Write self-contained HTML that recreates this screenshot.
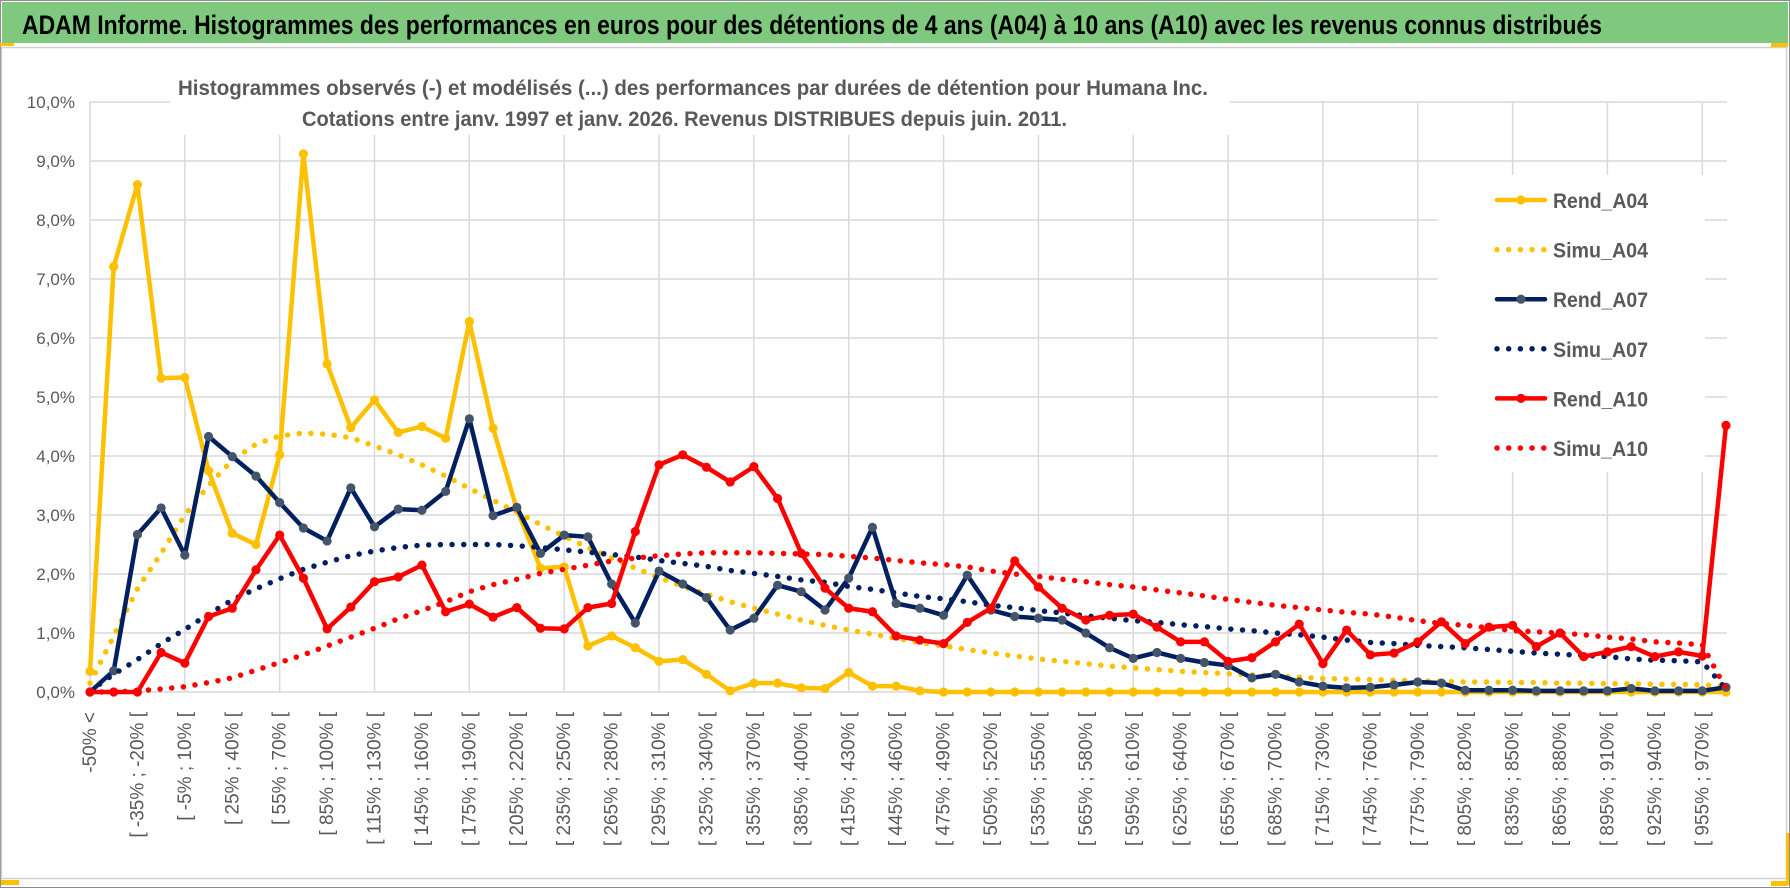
<!DOCTYPE html>
<html><head><meta charset="utf-8"><style>
html,body{margin:0;padding:0;background:#fff;}
svg{display:block;font-family:"Liberation Sans",sans-serif;}
</style></head><body>
<svg id="chart" width="1790" height="888" viewBox="0 0 1790 888">
<rect x="0" y="0" width="1790" height="888" fill="#fff"/>
<rect x="0.5" y="0.5" width="1789" height="887" fill="none" stroke="#8c8c8c"/>
<rect x="2" y="2" width="1786" height="41" fill="#7fc97f"/>
<text x="22" y="34" font-size="27" font-weight="bold" fill="#000" textLength="1580" lengthAdjust="spacingAndGlyphs">ADAM Informe. Histogrammes des performances en euros pour des détentions de 4 ans (A04) à 10 ans (A10) avec les revenus connus distribués</text>
<rect x="1.5" y="47.5" width="1785" height="831" fill="#fff" stroke="#d0d0d0" stroke-width="1.5"/>
<rect x="0" y="43" width="14" height="3" fill="#ffc000"/>
<rect x="1771" y="43" width="17" height="4" fill="#ffc000"/>
<rect x="1786" y="833" width="3" height="52" fill="#ffc000"/>
<rect x="1771" y="881" width="17" height="5" fill="#ffc000"/>
<rect x="1" y="880" width="18" height="5" fill="#ffc000"/>
<g id="grid"></g>
<rect x="170" y="58" width="1060" height="77" fill="#fff"/>
<text x="178" y="95" font-size="21" font-weight="bold" fill="#595959" textLength="1030" lengthAdjust="spacingAndGlyphs">Histogrammes observés (-) et modélisés (...) des performances par durées de détention pour Humana Inc.</text>
<text x="302" y="126" font-size="21" font-weight="bold" fill="#595959" textLength="765" lengthAdjust="spacingAndGlyphs">Cotations entre janv. 1997 et janv. 2026. Revenus DISTRIBUES depuis juin. 2011.</text>
<rect x="1438" y="175" width="267" height="297" fill="#fff"/>
<g id="yaxis"></g>
<g id="xaxis"></g>
<g id="series"></g>
<g id="legend"></g>
</svg>
<script>
const yTicks = [0,1,2,3,4,5,6,7,8,9,10];
const yTickLabels = ["0,0%","1,0%","2,0%","3,0%","4,0%","5,0%","6,0%","7,0%","8,0%","9,0%","10,0%"];
const tickLabels = ["-50% <","[ -35% ; -20% [","[ -5% ; 10% [","[ 25% ; 40% [","[ 55% ; 70% [","[ 85% ; 100% [","[ 115% ; 130% [","[ 145% ; 160% [","[ 175% ; 190% [","[ 205% ; 220% [","[ 235% ; 250% [","[ 265% ; 280% [","[ 295% ; 310% [","[ 325% ; 340% [","[ 355% ; 370% [","[ 385% ; 400% [","[ 415% ; 430% [","[ 445% ; 460% [","[ 475% ; 490% [","[ 505% ; 520% [","[ 535% ; 550% [","[ 565% ; 580% [","[ 595% ; 610% [","[ 625% ; 640% [","[ 655% ; 670% [","[ 685% ; 700% [","[ 715% ; 730% [","[ 745% ; 760% [","[ 775% ; 790% [","[ 805% ; 820% [","[ 835% ; 850% [","[ 865% ; 880% [","[ 895% ; 910% [","[ 925% ; 940% [","[ 955% ; 970% ["];
const rendA04 = [0.35,7.21,8.6,5.32,5.33,3.75,2.69,2.5,4.02,9.12,5.56,4.48,4.95,4.4,4.5,4.3,6.28,4.47,3.1,2.1,2.12,0.78,0.95,0.75,0.52,0.55,0.3,0.02,0.15,0.15,0.07,0.06,0.33,0.1,0.1,0.02,0,0,0,0,0,0,0,0,0,0,0,0,0,0,0,0,0,0,0,0,0,0,0,0,0,0,0,0,0,0,0,0,0,0];
const simuA04 = [0.15,0.95,1.75,2.35,3.0,3.5,3.93,4.2,4.34,4.39,4.37,4.31,4.17,4.02,3.85,3.66,3.45,3.25,3.05,2.84,2.64,2.45,2.27,2.1,1.94,1.79,1.66,1.53,1.42,1.32,1.22,1.13,1.05,0.98,0.91,0.84,0.78,0.72,0.66,0.61,0.56,0.52,0.48,0.44,0.41,0.38,0.35,0.33,0.31,0.29,0.27,0.25,0.23,0.22,0.21,0.2,0.19,0.18,0.17,0.17,0.16,0.16,0.15,0.15,0.14,0.14,0.13,0.13,0.12,0.1];
const rendA07 = [0,0.36,2.67,3.12,2.32,4.33,3.99,3.66,3.21,2.78,2.56,3.46,2.8,3.1,3.08,3.4,4.63,2.99,3.13,2.35,2.66,2.63,1.83,1.17,2.05,1.83,1.6,1.05,1.25,1.81,1.7,1.39,1.93,2.79,1.5,1.42,1.3,1.98,1.39,1.28,1.25,1.22,1.0,0.75,0.57,0.67,0.57,0.5,0.45,0.24,0.3,0.17,0.1,0.07,0.08,0.12,0.17,0.15,0.03,0.03,0.03,0.02,0.02,0.02,0.02,0.06,0.02,0.02,0.02,0.08];
const simuA07 = [0.02,0.3,0.55,0.82,1.06,1.32,1.56,1.75,1.92,2.08,2.2,2.31,2.39,2.45,2.49,2.5,2.5,2.5,2.48,2.45,2.41,2.37,2.33,2.29,2.23,2.18,2.13,2.06,2.01,1.96,1.9,1.86,1.79,1.74,1.68,1.62,1.58,1.53,1.47,1.43,1.38,1.34,1.29,1.25,1.21,1.18,1.14,1.11,1.07,1.04,1.0,0.97,0.93,0.88,0.84,0.82,0.79,0.77,0.75,0.72,0.69,0.66,0.64,0.62,0.6,0.56,0.54,0.53,0.51,0.05];
const rendA10 = [0,0,0,0.67,0.49,1.28,1.42,2.07,2.66,1.93,1.07,1.44,1.87,1.95,2.15,1.36,1.49,1.27,1.43,1.08,1.07,1.43,1.5,2.72,3.85,4.02,3.81,3.56,3.82,3.28,2.35,1.76,1.42,1.36,0.95,0.88,0.82,1.18,1.42,2.22,1.78,1.42,1.22,1.3,1.32,1.1,0.85,0.85,0.52,0.58,0.85,1.15,0.48,1.05,0.63,0.66,0.85,1.19,0.82,1.1,1.13,0.77,1.0,0.6,0.68,0.77,0.6,0.68,0.61,4.52];
const simuA10 = [0,0,0.02,0.05,0.09,0.16,0.24,0.37,0.5,0.63,0.78,0.93,1.08,1.24,1.38,1.53,1.7,1.82,1.91,2.01,2.08,2.15,2.22,2.27,2.31,2.34,2.36,2.36,2.36,2.35,2.34,2.33,2.3,2.27,2.23,2.19,2.16,2.12,2.05,2.0,1.96,1.91,1.87,1.82,1.78,1.73,1.68,1.63,1.57,1.52,1.47,1.43,1.39,1.35,1.32,1.27,1.21,1.16,1.13,1.09,1.04,1.02,1.0,0.97,0.93,0.9,0.85,0.83,0.8,0.05];

const NS = "http://www.w3.org/2000/svg";
const X0 = 90, X1 = 1726, Y0 = 692, Y10 = 102, NCAT = 70;
function xScale(i){ return X0 + i*(X1-X0)/(NCAT-1); }
function yScale(v){ return Y0 - v*(Y0-Y10)/10; }
function mk(tag, attrs, parent){
  const e = document.createElementNS(NS, tag);
  for (const k in attrs) e.setAttribute(k, attrs[k]);
  parent.appendChild(e); return e;
}
const grid = document.getElementById('grid');
yTicks.forEach(t => {
  const l = mk('line', {x1:X0, x2:1727, y1:yScale(t), y2:yScale(t), stroke:'#d9d9d9', 'stroke-width':1.5}, grid);
  
  
});
for (let i = 0; i < NCAT; i += 4) {
  const l = mk('line', {x1:xScale(i), x2:xScale(i), y1:Y10, y2:Y0, stroke:'#d9d9d9', 'stroke-width':1.5}, grid);
  
  
}
const ya = document.getElementById('yaxis');
yTicks.forEach((t, k) => {
  const tx = mk('text', {x:75, y:yScale(t)+6, 'text-anchor':'end', 'font-size':17, fill:'#595959'}, ya);
  tx.textContent = yTickLabels[k];
  
  
});
const xa = document.getElementById('xaxis');
tickLabels.forEach((lab, k) => {
  const cx = xScale(k*2) + 6;
  const tx = mk('text', {x:cx, y:712, 'text-anchor':'end', 'font-size':19, fill:'#595959', transform:'rotate(-90 '+cx+' 712)'}, xa);
  tx.textContent = lab;
  
  
});
const sg = document.getElementById('series');
function solid(vals, color, mcolor, name){
  const g = mk('g', {}, sg);
  
  
  const p = mk('polyline', {points: vals.map((v,i)=>xScale(i)+','+yScale(v)).join(' '), fill:'none', stroke:color, 'stroke-width':4.5, 'stroke-linejoin':'round'}, g);
  
  
  vals.forEach((v,i) => {
    const c = mk('circle', {cx:xScale(i), cy:yScale(v), r:4.6, fill:mcolor}, g);
    
    
  });
}
function dotted(vals, color, name){
  const p = mk('polyline', {points: vals.map((v,i)=>xScale(i)+','+yScale(v)).join(' '), fill:'none', stroke:color, 'stroke-width':5.5, 'stroke-linecap':'round', 'stroke-dasharray':'0 11.7'}, sg);
  
  
}
solid(rendA04, '#ffc000', '#ffc000', 'rend-a04');
dotted(simuA04, '#ffc000', 'simu-a04');
solid(rendA07, '#002060', '#44546a', 'rend-a07');
dotted(simuA07, '#002060', 'simu-a07');
solid(rendA10, '#ff0000', '#ff0000', 'rend-a10');
dotted(simuA10, '#ff0000', 'simu-a10');

const legendNames = ["Rend_A04","Simu_A04","Rend_A07","Simu_A07","Rend_A10","Simu_A10"];
const legendColors = ['#ffc000','#ffc000','#002060','#002060','#ff0000','#ff0000'];
const lg = document.getElementById('legend');
legendNames.forEach((n, k) => {
  const y = 200 + k*49.6;
  const g = mk('g', {}, lg);
  
  
  if (k % 2 === 0) {
    mk('line', {x1:1497, x2:1545, y1:y, y2:y, stroke:legendColors[k], 'stroke-width':4.5, 'stroke-linecap':'round'}, g);
    mk('circle', {cx:1521, cy:y, r:4.6, fill: k===2 ? '#44546a' : legendColors[k]}, g);
  } else {
    mk('line', {x1:1497, x2:1547, y1:y, y2:y, stroke:legendColors[k], 'stroke-width':5.5, 'stroke-linecap':'round', 'stroke-dasharray':'0 11.7'}, g);
  }
  const t = mk('text', {x:1553, y:y+8, 'font-size':21, 'font-weight':'bold', fill:'#595959', textLength:95, lengthAdjust:'spacingAndGlyphs'}, g);
  t.textContent = n;
});
</script>
</body></html>
